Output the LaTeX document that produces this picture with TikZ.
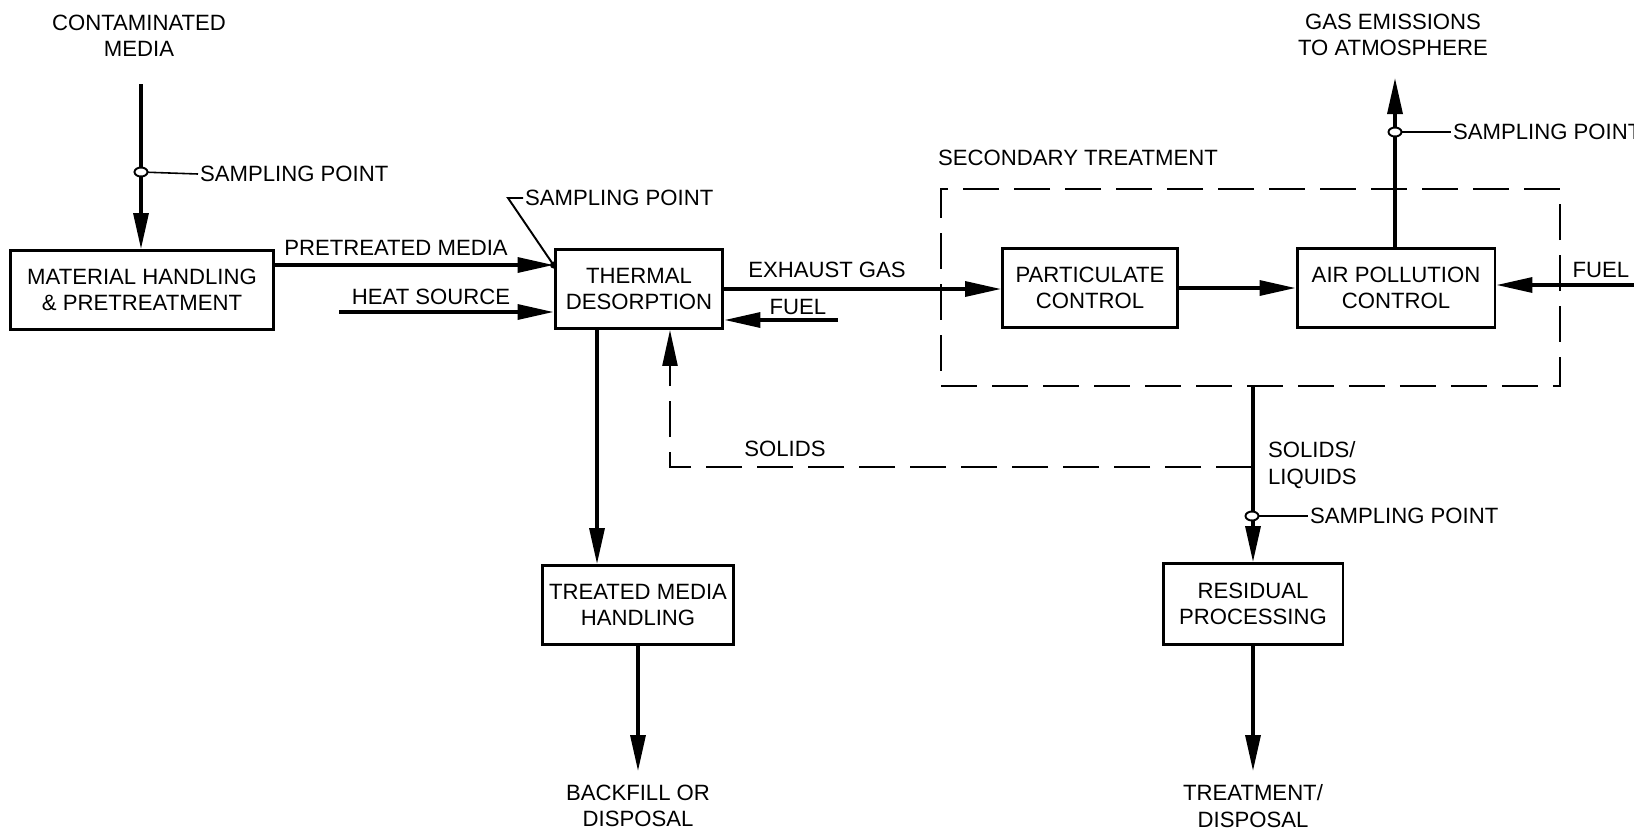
\documentclass[tikz,border=0pt]{standalone}
\usepackage{fontspec}
\setmainfont{Liberation Sans}
\usepackage{tikz}
\usetikzlibrary{positioning,arrows.meta,calc}
\tikzset{
  tdbox/.style={draw=black, line width=1.7pt, minimum height=1.58cm, inner sep=2pt,
                align=center, font=\fontsize{12.6}{15}\selectfont},
  tdlab/.style={align=center, inner sep=1pt, font=\fontsize{12.6}{15}\selectfont},
  tdflow/.style={draw=black, line width=1.9pt, -{Triangle[length=0.72cm, width=0.3cm]}},
  tdtick/.style={draw=black, line width=0.9pt},
  tddash/.style={draw=black, line width=1.4pt, dash pattern=on 0.72cm off 0.3cm},
  tdsamp/.style={draw=black, line width=1.1pt, fill=white},
}

\begin{document}
\begin{tikzpicture}[x=0.02cm, y=-0.02cm]
  \useasboundingbox (0,0) rectangle (1634,833);
  % process blocks
  \node[tdbox, minimum width=5.28cm] (MH) at (142,290) {MATERIAL HANDLING\\\& PRETREATMENT};
  \node[tdbox, minimum width=3.36cm] (TD) at (639,289) {THERMAL\\DESORPTION};
  \node[tdbox, minimum width=3.84cm] (TMH) at (638,605) {TREATED MEDIA\\HANDLING};
  \node[tdbox, minimum width=3.5cm] (PC) at (1090,288) {PARTICULATE\\CONTROL};
  \node[tdbox, minimum width=3.96cm] (APC) at (1396,288) {AIR POLLUTION\\CONTROL};
  \node[tdbox, minimum width=3.6cm, minimum height=1.62cm] (RP) at (1253,604) {RESIDUAL\\PROCESSING};
  \node[tddash, minimum width=12.38cm, minimum height=3.94cm] (sec) at (1250.5,287.5) {};

  % labels
  \node[tdlab] (cmLab) at (139,36) {CONTAMINATED\\MEDIA};
  \node[tdlab] (ptLab) at (396,248) {PRETREATED MEDIA};
  \node[tdlab] (hsLab) at (431,297) {HEAT SOURCE};
  \node[tdlab] (exLab) at (827,270) {EXHAUST GAS};
  \node[tdlab] (fuLab) at (798,307) {FUEL};
  \node[tdlab] (soLab) at (785,449) {SOLIDS};
  \node[tdlab] (stLab) at (1078,158) {SECONDARY TREATMENT};
  \node[tdlab] (geLab) at (1393,35) {GAS EMISSIONS\\TO ATMOSPHERE};
  \node[tdlab] (frLab) at (1601,270) {FUEL};
  \node[tdlab, align=left, anchor=west] (slLab) at (1266,465) {SOLIDS/\\LIQUIDS};
  \node[tdlab] (bfLab) at (638,806) {BACKFILL OR\\DISPOSAL};
  \node[tdlab] (tdLab) at (1253,806) {TREATMENT/\\DISPOSAL};
  \node[tdlab, anchor=west] (spA) at (198,174) {SAMPLING POINT};
  \node[tdlab, anchor=west] (spB) at (523,198) {SAMPLING POINT};
  \node[tdlab, anchor=west] (spC) at (1451,132) {SAMPLING POINT};
  \node[tdlab, anchor=west] (spD) at (1308,516) {SAMPLING POINT};

  % free ends
  \coordinate (cmTop) at (141,84);
  \coordinate (heat) at (339,312);
  \coordinate (fuelL) at (838,320);
  \coordinate (fuelR) at (1640,285);
  \coordinate (gasTop) at (1395,78);
  \coordinate (solJ) at (1252,467);
  \coordinate (bfEnd) at (638,771);
  \coordinate (tdEnd) at (1253,771);
  \coordinate (sampA) at (141,172);
  \coordinate (sampC) at (1395,132);
  \coordinate (sampD) at (1252,516);
  \coordinate (ptIn) at ([yshift=0.48cm]TD.west);

  % main flow
  \draw[tdflow] (cmTop) -- (cmTop |- MH.north);
  \draw[tdflow] (MH.east |- ptIn) -- (ptIn);
  \draw[tdflow] (heat) -- (heat -| TD.west);
  \draw[tdflow] (fuelL) -- (fuelL -| TD.east);
  \draw[tdflow] (TD.east) -- (TD.east -| PC.west);
  \draw[tdflow] (PC.east) -- (PC.east -| APC.west);
  \draw[tdflow] (fuelR) -- (fuelR -| APC.east);
  \draw[tdflow] (APC.north -| gasTop) -- (gasTop);
  \draw[tdflow] ([xshift=-0.84cm]TD.south) -- ([xshift=-0.84cm]TD.south |- TMH.north);
  \draw[tdflow] (sec.south -| RP.north) -- (RP.north);
  \draw[tdflow] (TMH.south) -- (bfEnd);
  \draw[tdflow] (RP.south) -- (tdEnd);
  \draw[tddash, -{Triangle[length=0.72cm, width=0.3cm]}]
    (solJ) -| ([xshift=0.62cm]TD.south);

  % sampling points
  \draw[tdtick] (sampA) -- (spA.west);
  \draw[tdsamp] (sampA) ellipse [x radius=0.13cm, y radius=0.09cm];
  \draw[tdtick] (sampC) -- (spC.west);
  \draw[tdsamp] (sampC) ellipse [x radius=0.13cm, y radius=0.09cm];
  \draw[tdtick] (sampD) -- (spD.west);
  \draw[tdsamp] (sampD) ellipse [x radius=0.13cm, y radius=0.09cm];
  \draw[tdtick, line width=1.1pt] (spB.west) -- ++(-15,0) -- (ptIn);
  \fill (ptIn) circle (0.07cm);
\end{tikzpicture}
\end{document}
